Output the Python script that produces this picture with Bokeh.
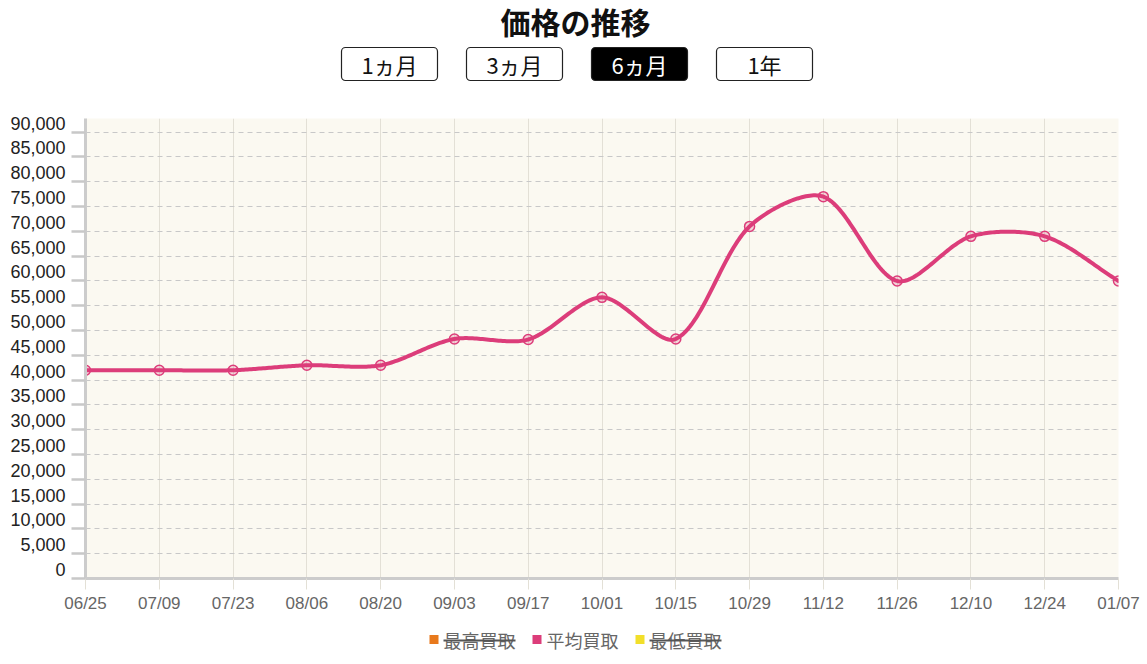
import numpy as np
from bokeh.plotting import figure
from bokeh.models import FixedTicker, Range1d, LinearAxis, NumeralTickFormatter
from bokeh.layouts import column
from bokeh.core.properties import value
from bokeh.embed import file_html
from bokeh.resources import INLINE

# ---------------- data ----------------
title_text = "価格の推移"
period_labels = ["1ヵ月", "3ヵ月", "6ヵ月", "1年"]
active_period = "6ヵ月"
dates = ["06/25", "07/09", "07/23", "08/06", "08/20", "09/03", "09/17", "10/01",
         "10/15", "10/29", "11/12", "11/26", "12/10", "12/24", "01/07"]
avg_price = [42000, 42000, 42000, 43000, 43000, 48300, 48200, 56700,
             48300, 71000, 77000, 60000, 69000, 69000, 60000]
series_names = ["最高買取", "平均買取", "最低買取"]
series_colors = ["#e8791c", "#dc3d7a", "#f2df2a"]
series_hidden = [True, False, True]
y_ticks = list(range(0, 90001, 5000))

JP = "Noto Sans CJK JP"
LAT = "Liberation Sans"
W = 1147
BL, BR = 85, 29       # left / right borders of every figure (frames line up)
CX = 575              # horizontal centre of header / legend, in page pixels


def blank_fig(h, y0, y1):
    f = figure(width=W, height=h, x_range=Range1d(BL, W - BR), y_range=Range1d(y1, y0),
               output_backend="svg", toolbar_location=None,
               x_axis_location=None, y_axis_location=None,
               min_border_left=BL, min_border_right=BR, min_border_top=0, min_border_bottom=0,
               outline_line_color=None)
    f.grid.visible = False
    return f


# ---------------- header (title + period buttons) ----------------
hdr = blank_fig(110, 0, 110)
hdr.text(x=[CX], y=[20.5], text=[title_text], text_font=value(JP), text_font_size="30px",
         text_font_style="bold", text_align="center", text_baseline="middle", text_color="#111111")
btn_w, btn_h, btn_gap = 96, 33, 125
bx = [CX + 1.5 - 1.5 * btn_gap + i * btn_gap for i in range(len(period_labels))]
by = [63.5] * len(period_labels)
fills = ["#000000" if l == active_period else "#ffffff" for l in period_labels]
tcols = ["#ffffff" if l == active_period else "#111111" for l in period_labels]
hdr.rect(x=bx, y=by, width=btn_w, height=btn_h, fill_color=fills, line_color="#222222",
         line_width=1.2, border_radius=4)
hdr.text(x=bx, y=by, text=period_labels, text_font=value(JP), text_font_size="22px",
         text_align="center", text_baseline="middle", text_color=tcols)

# ---------------- main chart ----------------
n = len(dates)
xs = np.arange(n, dtype=float)
ys = np.array(avg_price, dtype=float)
y_top = 92760
frame_h = 460

p = figure(width=W, height=510, x_range=Range1d(0, n - 1), y_range=Range1d(0, y_top),
           output_backend="svg", toolbar_location=None,
           min_border_left=BL, min_border_right=BR, min_border_top=8, min_border_bottom=42,
           background_fill_color="#fbf9f1", border_fill_color="#ffffff", outline_line_color=None)

# Chart.js-like bezier smoothing, computed in pixel-proportional space
frame_w = W - BL - BR
sx = frame_w / (n - 1)
sy = frame_h / y_top
px, py = xs * sx, ys * sy
t = 0.3
cpn = np.zeros((n, 2)); cpp = np.zeros((n, 2))
for i in range(n):
    a = max(i - 1, 0); b = min(i + 1, n - 1)
    d01 = np.hypot(px[i] - px[a], py[i] - py[a])
    d12 = np.hypot(px[b] - px[i], py[b] - py[i])
    tot = d01 + d12
    s01 = d01 / tot if tot else 0
    s12 = d12 / tot if tot else 0
    fa, fb = t * s01, t * s12
    cpp[i] = [px[i] - fa * (px[b] - px[a]), py[i] - fa * (py[b] - py[a])]
    cpn[i] = [px[i] + fb * (px[b] - px[a]), py[i] + fb * (py[b] - py[a])]
u = np.linspace(0, 1, 40)[:, None]
curve = []
for i in range(n - 1):
    P0 = np.array([px[i], py[i]]); P3 = np.array([px[i + 1], py[i + 1]])
    C1, C2 = cpn[i], cpp[i + 1]
    seg = (1 - u) ** 3 * P0 + 3 * (1 - u) ** 2 * u * C1 + 3 * (1 - u) * u ** 2 * C2 + u ** 3 * P3
    curve.append(seg if i == 0 else seg[1:])
curve = np.vstack(curve)
cx, cy = curve[:, 0] / sx, curve[:, 1] / sy

line_col = series_colors[1]
p.line(cx, cy, line_color=line_col, line_width=4, line_join="round", line_cap="round")
p.scatter(xs, ys, size=10, marker="circle", line_color=line_col, line_width=1.5,
          fill_color=line_col, fill_alpha=0.2)

# x axis
p.xaxis.ticker = FixedTicker(ticks=list(range(n)))
p.xaxis.major_label_overrides = {i: d for i, d in enumerate(dates)}
p.xaxis.major_label_text_font = LAT
p.xaxis.major_label_text_font_size = "17px"
p.xaxis.major_label_text_color = "#666666"
p.xaxis.axis_line_color = "#cccccc"
p.xaxis.axis_line_width = 3
p.xaxis.major_tick_line_color = "#e3e0d6"
p.xaxis.major_tick_out = 11
p.xaxis.major_tick_in = 0
p.xaxis.minor_tick_line_color = None
p.xaxis.major_label_standoff = 4

# y axis: tick marks only (labels come from a second, offset axis)
p.yaxis.ticker = FixedTicker(ticks=y_ticks)
p.yaxis.major_label_text_font_size = "0px"
p.yaxis.major_label_text_color = None
p.yaxis.major_label_standoff = 0
p.yaxis.axis_line_color = "#cccccc"
p.yaxis.axis_line_width = 3
p.yaxis.major_tick_line_color = "#c8c8c8"
p.yaxis.major_tick_line_width = 2.5
p.yaxis.major_tick_out = 14
p.yaxis.major_tick_in = 0
p.yaxis.minor_tick_line_color = None

# label axis: range shifted so each label sits ~9px above its tick
lift = 9 / sy
p.extra_y_ranges = {"lab": Range1d(-lift, y_top - lift)}
lab_axis = LinearAxis(y_range_name="lab", ticker=FixedTicker(ticks=y_ticks),
                      formatter=NumeralTickFormatter(format="0,0"),
                      axis_line_color=None, major_tick_line_color=None, minor_tick_line_color=None,
                      major_tick_out=0, major_tick_in=0, major_label_standoff=6,
                      major_label_text_font=LAT, major_label_text_font_size="18px",
                      major_label_text_color="#222222")
p.add_layout(lab_axis, "left")

p.xgrid.grid_line_color = "#e3e0d6"
p.xgrid.grid_line_width = 1
p.ygrid.grid_line_color = "#c8c8c8"
p.ygrid.grid_line_dash = "5 4"
p.ygrid.grid_line_width = 1

# ---------------- footer legend ----------------
ftr = blank_fig(44, 620, 664)
fs = 18
box, gap, spacing = 9, 5, 17
tw = [len(s) * fs for s in series_names]
item_w = [box + gap + w for w in tw]
total = sum(item_w) + spacing * (len(series_names) - 1)
cur = CX - total / 2
lx, tx = [], []
for wdt in item_w:
    lx.append(cur + box / 2)
    tx.append(cur + box + gap)
    cur += wdt + spacing
ly = [639] * len(series_names)
ftr.rect(x=lx, y=ly, width=box, height=box, fill_color=series_colors, line_color=None)
ftr.text(x=tx, y=ly, text=series_names, text_font=value(JP), text_font_size=f"{fs}px",
         text_align="left", text_baseline="middle", text_color="#666666")
sx0 = [a for a, h in zip(tx, series_hidden) if h]
sx1 = [a + w for a, w, h in zip(tx, tw, series_hidden) if h]
ftr.segment(x0=sx0, y0=[640] * len(sx0), x1=sx1, y1=[640] * len(sx0),
            line_color="#555555", line_width=2, level="overlay")

layout = column(hdr, p, ftr, spacing=0)
open("out.html", "w").write(file_html(layout, INLINE))
